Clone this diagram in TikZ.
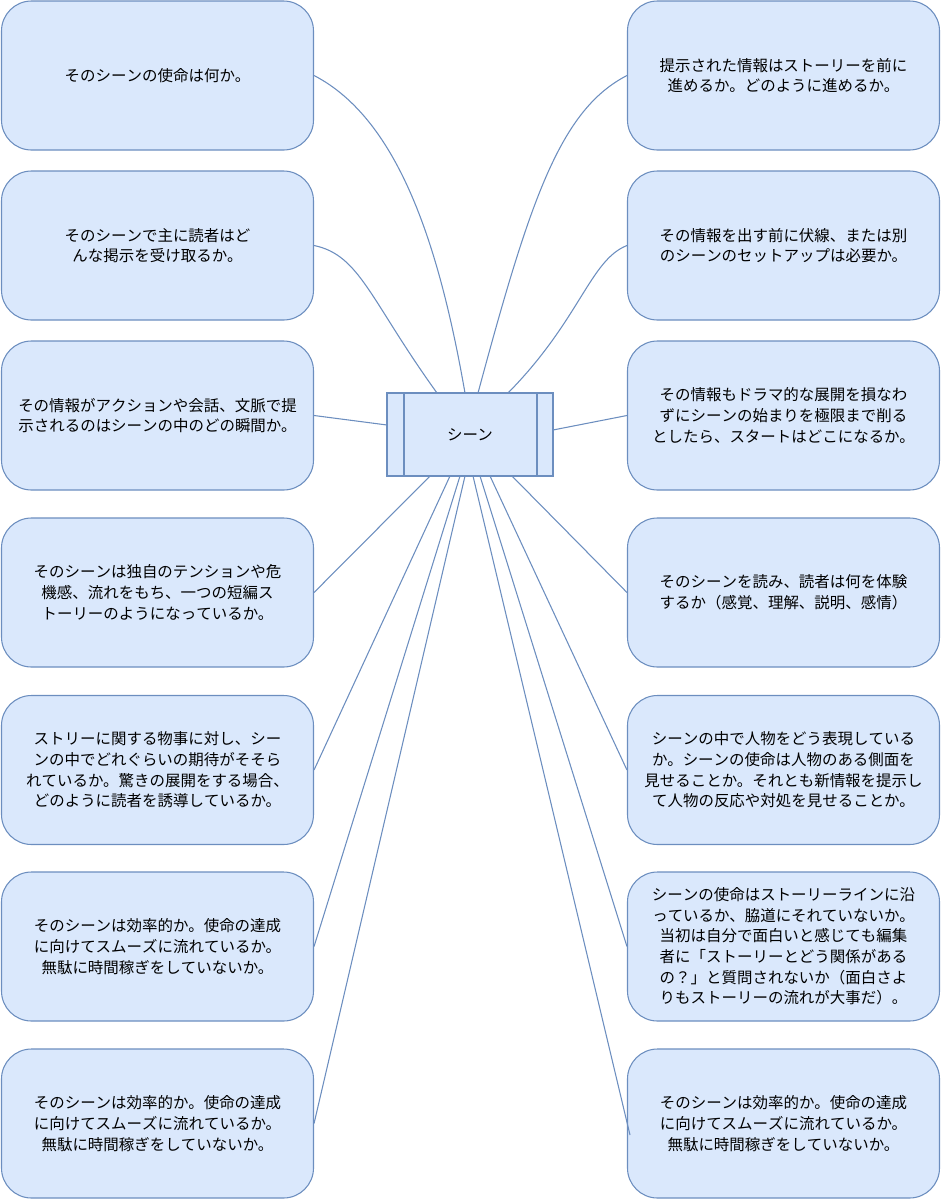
\documentclass[tikz,border=0pt]{standalone}
\usepackage{fontspec}
\setmainfont{Noto Sans CJK JP}
\XeTeXlinebreaklocale "ja"
\XeTeXlinebreakskip=0pt plus 0.01pt
\begin{document}
\begin{tikzpicture}[x=0.75pt,y=-0.75pt,
 box/.style={draw=edge,fill=fillc,rounded corners=22.5pt,line width=0.8pt,minimum width=312*0.75pt,minimum height=149*0.75pt,text width=300*0.75pt,align=center,font=\fontsize{11.6pt}{15.5pt}\selectfont,inner sep=0pt},
 conn/.style={draw=edge,line width=0.8pt}]
\definecolor{edge}{HTML}{6C8EBF}
\definecolor{fillc}{HTML}{DAE8FC}
\useasboundingbox (0,0) rectangle (941,1200);
\node[box] (l1) at (157.5,75.5) {そのシーンの使命は何か。};
\node[box] (l2) at (157.5,245.5) {そのシーンで主に読者はどんな掲示を受け取るか。};
\node[box] (l3) at (157.5,415.5) {その情報がアクションや会話、文脈で提示されるのはシーンの中のどの瞬間か。};
\node[box] (l4) at (157.5,592.5) {そのシーンは独自のテンションや危機感、流れをもち、一つの短編ストーリーのようになっているか。};
\node[box] (l5) at (157.5,770) {ストリーに関する物事に対し、シーンの中でどれぐらいの期待がそそられているか。驚きの展開をする場合、どのように読者を誘導しているか。};
\node[box] (l6) at (157.5,946.5) {そのシーンは効率的か。使命の達成に向けてスムーズに流れているか。無駄に時間稼ぎをしていないか。};
\node[box] (l7) at (157.5,1123.5) {そのシーンは効率的か。使命の達成に向けてスムーズに流れているか。無駄に時間稼ぎをしていないか。};
\node[box] (r1) at (783.5,75.5) {提示された情報はストーリーを前に進めるか。どのように進めるか。};
\node[box] (r2) at (783.5,245.5) {その情報を出す前に伏線、または別のシーンのセットアップは必要か。};
\node[box] (r3) at (783.5,415.5) {その情報もドラマ的な展開を損なわずにシーンの始まりを極限まで削るとしたら、スタートはどこになるか。};
\node[box] (r4) at (783.5,592.5) {そのシーンを読み、読者は何を体験するか（感覚、理解、説明、感情）};
\node[box] (r5) at (783.5,770) {シーンの中で人物をどう表現しているか。シーンの使命は人物のある側面を見せることか。それとも新情報を提示して人物の反応や対処を見せることか。};
\node[box] (r6) at (783.5,946.5) {シーンの使命はストーリーラインに沿っているか、脇道にそれていないか。当初は自分で面白いと感じても編集者に「ストーリーとどう関係があるの？」と質問されないか（面白さよりもストーリーの流れが大事だ）。};
\node[box] (r7) at (783.5,1123.5) {そのシーンは効率的か。使命の達成に向けてスムーズに流れているか。無駄に時間稼ぎをしていないか。};
\node[draw=edge,fill=fillc,line width=1.6pt,minimum width=166*0.75pt,minimum height=83*0.75pt,font=\fontsize{11.6pt}{15pt}\selectfont] (c) at (470,434.5) {シーン};
\draw[edge,line width=1.6pt] (404,393) -- (404,476) (537,393) -- (537,476);
\coordinate (ct1) at (465,393); \coordinate (ct2) at (437,393);
\coordinate (ct3) at (478,393); \coordinate (ct4) at (508,393);
\path[conn] (l1.east) .. controls (400,120) and (440,250) .. (ct1);
\path[conn] (l2.east) .. controls (360,255) and (370,300) .. (ct2);
\path[conn] (l3.east) -- (387,425);
\path[conn] (l4.east) -- (430,476);
\path[conn] (l5.east) -- (450,476);
\path[conn] (l6.east) -- (460,476);
\path[conn] (l7.east) -- (465,476);
\path[conn] (r1.west) .. controls (560,110) and (530,200) .. (ct3);
\path[conn] (r2.west) .. controls (590,260) and (580,320) .. (ct4);
\path[conn] (r3.west) -- (553,430);
\path[conn] (r4.west) -- (512,476);
\path[conn] (r5.west) -- (490,476);
\path[conn] (r6.west) -- (480,476);
\path[conn] (630,1135) -- (473,476);
\end{tikzpicture}
\end{document}
